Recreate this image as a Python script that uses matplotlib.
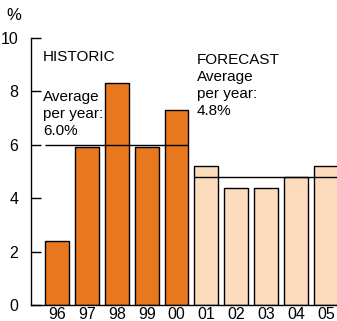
import matplotlib
matplotlib.use("Agg")
import matplotlib.pyplot as plt

years = ["96", "97", "98", "99", "00", "01", "02", "03", "04", "05"]
growth = [2.4, 5.9, 8.3, 5.9, 7.3, 5.2, 4.4, 4.4, 4.8, 5.2]
n_historic = 5
historic_avg = 6.0
forecast_avg = 4.8
yticks = [0, 2, 4, 6, 8, 10]

dark_orange = "#E8781E"
light_peach = "#FDDCBD"

plt.rcParams["font.family"] = ["Liberation Sans", "DejaVu Sans"]

fig = plt.figure(figsize=(3.37, 3.21), dpi=100)
ax = fig.add_axes([31 / 337, 16 / 321, 306 / 337, 267 / 321])

x = list(range(len(years)))
colors = [dark_orange] * n_historic + [light_peach] * (len(years) - n_historic)
ax.bar(x, growth, width=0.8, color=colors, edgecolor="black", linewidth=1.0, zorder=2)

# average lines across each period
ax.hlines(historic_avg, x[0] - 0.4, x[n_historic - 1] + 0.4, color="black", linewidth=1.0, zorder=3)
ax.hlines(forecast_avg, x[n_historic] - 0.4, x[-1] + 0.6, color="black", linewidth=1.0, zorder=3)

ax.set_xlim(-0.87, 9.37)
ax.set_ylim(0, 10)
ax.set_yticks(yticks)
ax.set_xticks(x)
ax.set_xticklabels(years)
ax.tick_params(axis="y", direction="in", length=7, width=1, labelsize=11.5, pad=9)
ax.tick_params(axis="x", length=0, labelsize=11.5, pad=1.5)
for side in ("top", "right"):
    ax.spines[side].set_visible(False)
ax.spines["left"].set_linewidth(1)
ax.spines["bottom"].set_linewidth(1)

fig.text(6 / 337, 1 - 16 / 321, "%", fontsize=12, va="center", ha="left")

ax.text(-0.47, 9.3, "HISTORIC", fontsize=11, va="center", ha="left")
ax.text(-0.47, 7.15, "Average\nper year:\n6.0%", fontsize=11, va="center", ha="left",
        linespacing=1.3)
ax.text(4.67, 8.22, "FORECAST\nAverage\nper year:\n4.8%", fontsize=11, va="center", ha="left",
        linespacing=1.3)

fig.savefig("out.png", dpi=100)
